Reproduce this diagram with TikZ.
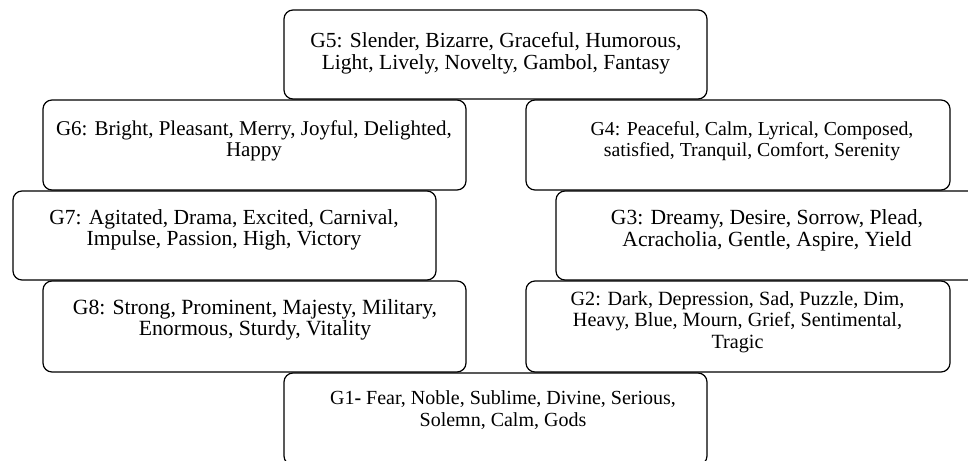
\documentclass[tikz,border=0pt]{standalone}
\usepackage{fontspec}
\setmainfont{Liberation Serif}
\begin{document}
\begin{tikzpicture}[x=1pt,y=-1pt,
  box/.style={draw=black, line width=1.2pt, rounded corners=9pt, fill=white, inner sep=0pt},
  txt/.style={align=center, inner sep=0pt},
  fs/.style={font=\fontsize{#1}{21.5}\selectfont}]
\useasboundingbox (0,0) rectangle (968,460);
\clip (0,0) rectangle (968,460);
% boxes
\node[box, minimum width=423pt, minimum height=89pt] (b5) at (495.5,54.5) {};
\node[box, minimum width=423pt, minimum height=90pt] (b6) at (254.5,145) {};
\node[box, minimum width=424pt, minimum height=90pt] (b4) at (738,145) {};
\node[box, minimum width=423pt, minimum height=89pt] (b7) at (224.5,235.5) {};
\node[box, minimum width=434pt, minimum height=89pt] (b3) at (773,235.5) {};
\node[box, minimum width=423pt, minimum height=91pt] (b8) at (254.5,326.5) {};
\node[box, minimum width=424pt, minimum height=91pt] (b2) at (738,326.5) {};
\node[box, minimum width=423pt, minimum height=92pt] (b1) at (495.5,419) {};
% texts
\node[txt, fs=21.5] (t5) at (496,53.5) {G5: Slender, Bizarre, Graceful, Humorous,\\Light, Lively, Novelty, Gambol, Fantasy};
\node[txt, fs=21] (t6) at (254,141) {G6: Bright, Pleasant, Merry, Joyful, Delighted,\\Happy};
\node[txt, fs=19.8] (t4) at (752,141) {G4: Peaceful, Calm, Lyrical, Composed,\\satisfied, Tranquil, Comfort, Serenity};
\node[txt, fs=21.5] (t7) at (224,230) {G7: Agitated, Drama, Excited, Carnival,\\Impulse, Passion, High, Victory};
\node[txt, fs=21.6] (t3) at (767,230.5) {G3: Dreamy, Desire, Sorrow, Plead,\\Acracholia, Gentle, Aspire, Yield};
\node[txt, fs=21.7] (t8) at (255,320) {G8: Strong, Prominent, Majesty, Military,\\Enormous, Sturdy, Vitality};
\node[txt, fs=20.2] (t2) at (737.5,322) {G2: Dark, Depression, Sad, Puzzle, Dim,\\Heavy, Blue, Mourn, Grief, Sentimental,\\Tragic};
\node[txt, fs=20] (t1) at (503,410) {G1\textbf{-} Fear, Noble, Sublime, Divine, Serious,\\Solemn, Calm, Gods};
\end{tikzpicture}
\end{document}
